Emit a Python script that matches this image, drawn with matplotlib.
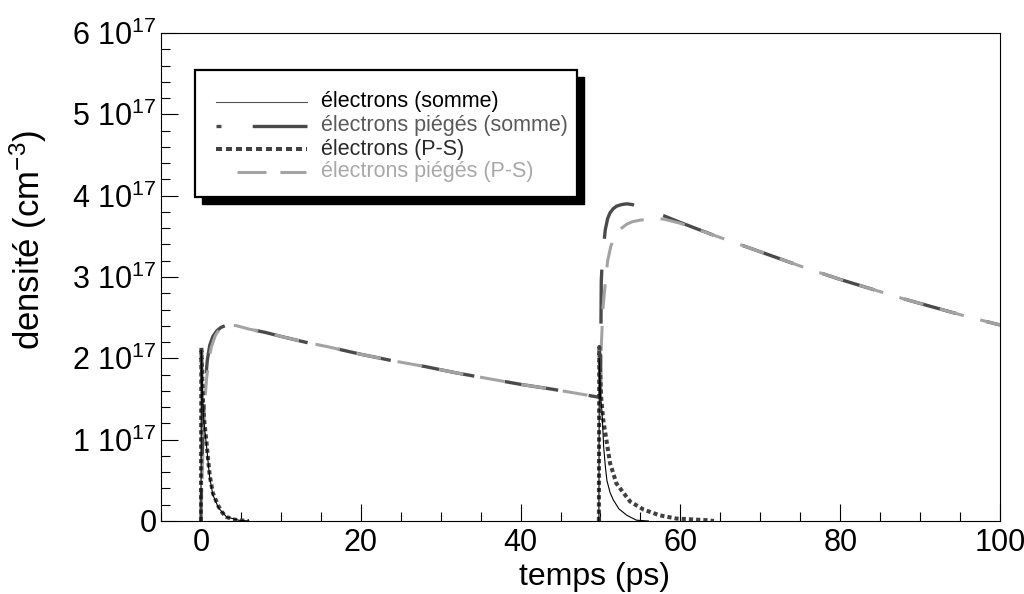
import numpy as np
import matplotlib
matplotlib.use("Agg")
import matplotlib.pyplot as plt
from matplotlib.ticker import MultipleLocator, FuncFormatter
from matplotlib.patches import Rectangle

plt.rcParams['font.family'] = ['Liberation Sans', 'DejaVu Sans']
plt.rcParams['mathtext.fontset'] = 'custom'
plt.rcParams['mathtext.rm'] = 'Liberation Sans'
plt.rcParams['mathtext.it'] = 'Liberation Sans:italic'
plt.rcParams['mathtext.default'] = 'regular'
plt.rcParams['lines.scale_dashes'] = False

# densities in units of 1e17 cm^-3, time in ps
t_trap_sum = [0, 0.1, 0.3, 0.5, 0.8, 1.1, 1.5, 2.0, 2.5, 3.0, 3.6, 4.5, 6, 8, 10, 13, 16,
              20, 24, 28, 32, 36, 40, 44, 47, 49.9, 50.0, 50.1, 50.2, 50.4, 50.6, 50.9,
              51.2, 51.6, 52.0, 52.6, 53.3, 54, 55, 56, 58, 60, 64, 68, 72, 76, 80, 84,
              88, 92, 96, 100]
n_trap_sum = [0, 0.60, 1.25, 1.65, 1.98, 2.16, 2.27, 2.34, 2.38, 2.40, 2.41, 2.40, 2.36,
              2.32, 2.27, 2.20, 2.14, 2.05, 1.97, 1.90, 1.82, 1.75, 1.68, 1.62, 1.57,
              1.52, 1.60, 2.95, 3.15, 3.39, 3.58, 3.72, 3.79, 3.84, 3.87, 3.89, 3.90,
              3.89, 3.85, 3.81, 3.75, 3.67, 3.52, 3.38, 3.24, 3.10, 2.97, 2.85, 2.73,
              2.62, 2.51, 2.41]

t_trap_ps = [0, 0.1, 0.3, 0.5, 0.7, 0.9, 1.1, 1.3, 1.8, 2.4, 3.0, 3.6, 4.5, 6, 8, 10, 13,
             16, 20, 24, 28, 32, 36, 40, 44, 47, 49.9, 50.0, 50.1, 50.3, 50.6, 50.9, 51.3,
             51.8, 52.5, 53.3, 54, 55, 56, 57, 58, 60, 64, 68, 72, 76, 80, 84, 88, 92,
             96, 100]
n_trap_ps = [0, 0.35, 1.08, 1.49, 1.75, 1.90, 2.03, 2.14, 2.28, 2.37, 2.40, 2.41, 2.40,
             2.36, 2.32, 2.27, 2.20, 2.14, 2.05, 1.97, 1.90, 1.82, 1.75, 1.68, 1.62,
             1.57, 1.52, 1.75, 2.14, 2.60, 2.93, 3.20, 3.38, 3.50, 3.59, 3.65, 3.68,
             3.70, 3.71, 3.72, 3.71, 3.66, 3.52, 3.38, 3.24, 3.10, 2.97, 2.85, 2.73,
             2.62, 2.51, 2.41]

t_el_ps_1 = [0, 0.05, 0.15, 0.25, 0.35, 0.5, 0.7, 0.9, 1.1, 1.5, 2.2, 2.7, 3.2, 4.0, 4.7, 6.0]
n_el_ps_1 = [0, 2.13, 1.80, 1.50, 1.30, 1.15, 0.96, 0.75, 0.56, 0.34, 0.18, 0.10, 0.05,
             0.02, 0.01, 0.0]
t_el_ps_2 = [49.8, 49.85, 49.95, 50.1, 50.35, 50.8, 51.2, 52.0, 53.7, 55.4, 57.4, 59.5,
             63.3, 64.2]
n_el_ps_2 = [0, 2.14, 1.85, 1.50, 1.24, 0.96, 0.71, 0.46, 0.24, 0.14, 0.07, 0.03, 0.01, 0.0]

t_el_sum_1 = [0, 0.05, 0.15, 0.3, 0.5, 0.7, 0.9, 1.1, 1.5, 2.2, 3.2, 4.7, 6.0]
n_el_sum_1 = [0, 2.10, 1.75, 1.30, 1.10, 0.92, 0.72, 0.53, 0.32, 0.16, 0.05, 0.01, 0.0]
t_el_sum_2 = [49.8, 49.85, 50.0, 50.2, 50.4, 50.6, 50.8, 51.2, 51.6, 52.3, 53.3, 54.5, 56.0]
n_el_sum_2 = [0, 2.00, 1.55, 1.33, 0.91, 0.68, 0.50, 0.35, 0.26, 0.15, 0.07, 0.01, 0.0]

labels = ["électrons (somme)", "électrons piégés (somme)",
          "électrons (P-S)", "électrons piégés (P-S)"]

dark = '#4a4a4a'
light = '#a3a3a3'
dots = '#404040'

fig = plt.figure(figsize=(10.24, 5.94), dpi=100)
ax = fig.add_axes([161 / 1024, 73 / 594, 839 / 1024, 488 / 594])

ax.plot(t_trap_sum, n_trap_sum, color=dark, lw=2.4, ls=(16, (38.9, 22.3)),
        dash_capstyle='butt', zorder=2)
ax.plot(t_trap_ps, n_trap_ps, color=light, lw=2.2, dashes=(18, 12.2),
        dash_capstyle='butt', zorder=3)
for tt, nn in [(t_el_ps_1, n_el_ps_1), (t_el_ps_2, n_el_ps_2)]:
    ax.plot(tt, nn, color=dots, lw=2.9, dashes=(3.0, 2.2), dash_capstyle='butt', zorder=4)
for tt, nn in [(t_el_sum_1, n_el_sum_1), (t_el_sum_2, n_el_sum_2)]:
    ax.plot(tt, nn, color='black', lw=0.8, zorder=5)

ax.set_xlim(-5, 100)
ax.set_ylim(0, 6)
ax.xaxis.set_major_locator(MultipleLocator(20))
ax.xaxis.set_minor_locator(MultipleLocator(5))
ax.yaxis.set_major_locator(MultipleLocator(1))
ax.yaxis.set_minor_locator(MultipleLocator(0.2))
ax.yaxis.set_major_formatter(FuncFormatter(
    lambda v, p: '0' if abs(v) < 1e-9 else f'{v:.0f} 10$^{{17}}$'))
ax.tick_params(which='both', direction='in', top=False, right=False, width=0.8)
ax.tick_params(which='major', length=12)
ax.tick_params(which='minor', length=6.5)
ax.tick_params(axis='x', labelsize=22, pad=5)
ax.tick_params(axis='y', labelsize=22, pad=3)
for s in ax.spines.values():
    s.set_linewidth(0.8)

ax.set_xlabel('temps (ps)', fontsize=23)
ax.set_ylabel('densité (cm$^{-3}$)', fontsize=25)
ax.xaxis.set_label_coords(0.517, -0.085)
ax.yaxis.set_label_coords(-0.133, 0.576)

# legend drawn by hand (box with offset black shadow)
def ax_x(px):
    return (px - 161) / 839

def ax_y(py):
    return (521 - py) / 488

bx0, bx1, by0, by1 = ax_x(195), ax_x(577), ax_y(197), ax_y(70)
ax.add_patch(Rectangle((bx0 + 7 / 839, by0 - 7 / 488), bx1 - bx0, by1 - by0,
                       transform=ax.transAxes, facecolor='black', edgecolor='black',
                       zorder=8))
ax.add_patch(Rectangle((bx0, by0), bx1 - bx0, by1 - by0, transform=ax.transAxes,
                       facecolor='white', edgecolor='black', lw=1.6, zorder=9))

rows = [ax_y(102), ax_y(126), ax_y(149), ax_y(172)]
text_colors = ['black', '#5a5a5a', '#2a2a2a', '#a8a8a8']
ax.plot([ax_x(216), ax_x(307)], [rows[0]] * 2, transform=ax.transAxes,
        color='#555555', lw=0.8, zorder=10)
ax.plot([ax_x(216), ax_x(307)], [rows[1]] * 2, transform=ax.transAxes,
        color=dark, lw=2.4, dashes=(3.6, 22.5, 40, 10), dash_capstyle='butt', zorder=10)
ax.plot([ax_x(216), ax_x(307)], [rows[2]] * 2, transform=ax.transAxes,
        color=dots, lw=2.9, dashes=(4.3, 2.9), dash_capstyle='butt', zorder=10)
ax.plot([ax_x(237), ax_x(306)], [rows[3]] * 2, transform=ax.transAxes,
        color=light, lw=2.2, dashes=(20.9, 10), dash_capstyle='butt', zorder=10)
for lab, y, c in zip(labels, rows, text_colors):
    ax.text(ax_x(321), y, lab, transform=ax.transAxes, fontsize=15.5, color=c,
            va='center', ha='left', zorder=11)

fig.savefig('out.png', dpi=100)
